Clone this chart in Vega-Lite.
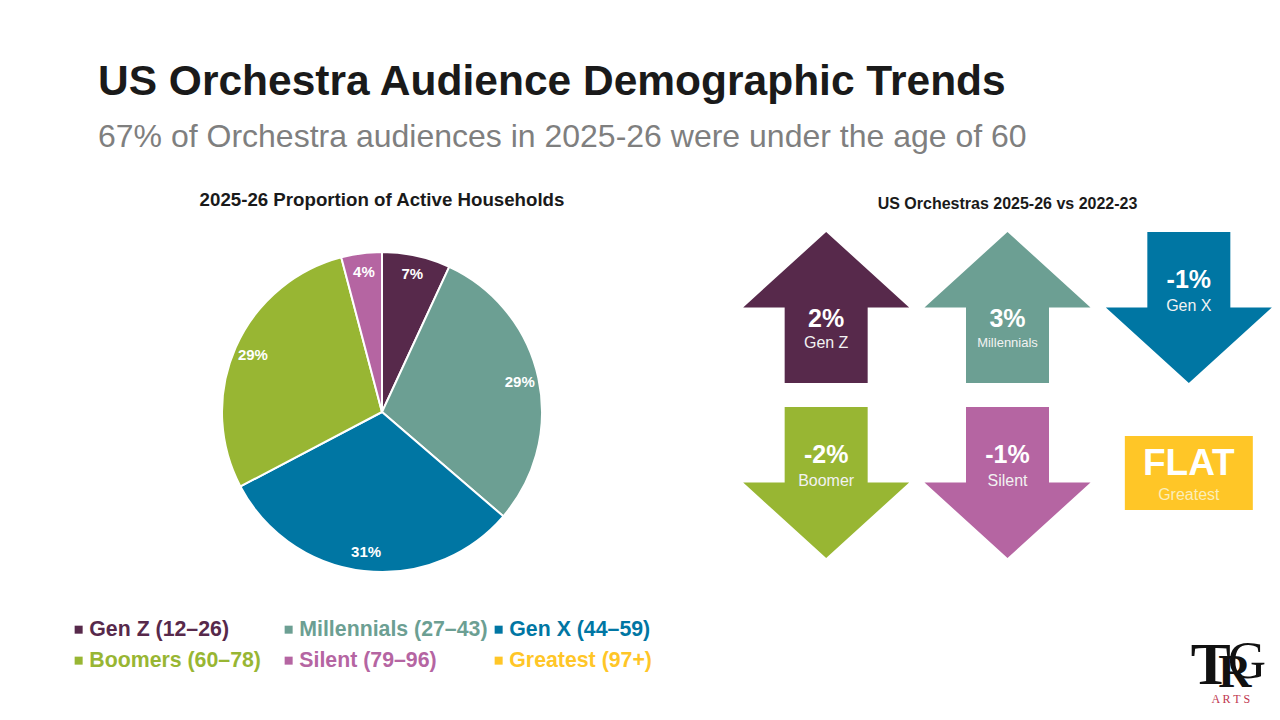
{
"$schema":"https://vega.github.io/schema/vega-lite/v6.json",
"background":"white",
"padding":{"left":68,"top":61,"right":0,"bottom":0},
"title":{"text":"US Orchestra Audience Demographic Trends","subtitle":"67% of Orchestra audiences in 2025-26 were under the age of 60","anchor":"start","frame":"bounds","dx":30,"offset":38,"font":"Liberation Sans","fontSize":42.5,"fontWeight":"bold","color":"#1a1a1a","subtitleFont":"Liberation Sans","subtitleFontSize":32,"subtitleColor":"#7f7f7f","subtitlePadding":18.5},
"config":{"view":{"stroke":null},"font":"Liberation Sans","concat":{"spacing":0}},
"bounds":"flush",
"spacing":193.5,
"datasets":{
"households":[
{"generation":"Gen Z (12–26)","share":0.069,"rank":1},
{"generation":"Millennials (27–43)","share":0.294,"rank":2},
{"generation":"Gen X (44–59)","share":0.31,"rank":3},
{"generation":"Boomers (60–78)","share":0.286,"rank":4},
{"generation":"Silent (79–96)","share":0.041,"rank":5},
{"generation":"Greatest (97+)","share":0,"rank":6}],
"changes":[
{"label":"Gen Z","change":"2%","direction":"up","col":"a","row":"top"},
{"label":"Millennials","change":"3%","direction":"up","col":"b","row":"top"},
{"label":"Gen X","change":"-1%","direction":"down","col":"c","row":"top"},
{"label":"Boomer","change":"-2%","direction":"down","col":"a","row":"bottom"},
{"label":"Silent","change":"-1%","direction":"down","col":"b","row":"bottom"},
{"label":"Greatest","change":"FLAT","direction":"flat","col":"c","row":"bottom"}],
"logo":[{"col":"c","t":"T","r":"R","g":"G","arts":"A R T S"}]
},
"hconcat":[
{"width":320,"height":384,
"title":{"text":"2025-26 Proportion of Active Households","fontSize":18.7,"fontWeight":"bold","color":"#1a1a1a","offset":10,"anchor":"middle"},
"data":{"name":"households"},
"encoding":{"theta":{"field":"share","type":"quantitative","stack":true,"scale":{"domain":[0,1]}},"order":{"field":"rank","type":"ordinal"}},
"layer":[
{"mark":{"type":"arc","outerRadius":160,"stroke":"white","strokeWidth":2},
"encoding":{"color":{"field":"generation","type":"nominal",
"scale":{"domain":["Gen Z (12–26)","Millennials (27–43)","Gen X (44–59)","Boomers (60–78)","Silent (79–96)","Greatest (97+)"],"range":["#57294B","#6C9F93","#0076A3","#98B633","#B565A2","#FFC627"]},
"legend":{"orient":"none","legendX":-154,"legendY":399,"title":null,"direction":"horizontal","columns":3,"gridAlign":"all","columnPadding":0,"rowPadding":9,"symbolType":"square","symbolSize":64,"symbolOpacity":1,"symbolStrokeWidth":0,"labelFontSize":21.3,"labelFontWeight":"bold","labelLimit":300,"labelOffset":0,
"labelColor":{"expr":"{'Gen Z (12–26)':'#57294B','Millennials (27–43)':'#6C9F93','Gen X (44–59)':'#0076A3','Boomers (60–78)':'#98B633','Silent (79–96)':'#B565A2','Greatest (97+)':'#FFC627'}[datum.value]"}}}}},
{"mark":{"type":"text","radius":141,"color":"white","fontSize":15,"fontWeight":"bold"},
"encoding":{"text":{"field":"share","type":"quantitative","format":".0%"},"opacity":{"condition":{"test":"datum.share>0","value":1},"value":0}}}
]},
{"vconcat":[
{"width":544,"height":350,
"title":{"text":"US Orchestras 2025-26 vs 2022-23","fontSize":16,"fontWeight":"bold","color":"#1a1a1a","offset":8,"anchor":"middle"},
"data":{"name":"changes"},
"encoding":{"x":{"field":"col","type":"nominal","axis":null,"scale":{"domain":["a","b","c"],"paddingInner":0,"paddingOuter":0}},
"y":{"field":"row","type":"nominal","axis":null,"scale":{"domain":["top","bottom"],"paddingInner":0,"paddingOuter":0}}},
"layer":[
{"mark":{"type":"point","filled":true,"opacity":1,"size":27556},
"encoding":{"shape":{"field":"direction","type":"nominal","legend":null,"scale":{"domain":["up","down","flat"],"range":["M0,-0.91 L1,0 L0.5,0 L0.5,0.91 L-0.5,0.91 L-0.5,0 L-1,0 Z","M0,0.91 L1,0 L0.5,0 L0.5,-0.91 L-0.5,-0.91 L-0.5,0 L-1,0 Z","M-0.771,-0.56 L0.771,-0.56 L0.771,0.332 L-0.771,0.332 Z"]}},
"color":{"field":"label","type":"nominal","legend":null,"scale":{"domain":["Gen Z","Millennials","Gen X","Boomer","Silent","Greatest"],"range":["#57294B","#6C9F93","#0076A3","#98B633","#B565A2","#FFC627"]}}}},
{"transform":[{"filter":"datum.direction=='up'"}],"mark":{"type":"text","color":"white","fontSize":25,"fontWeight":"bold","dy":11},"encoding":{"text":{"field":"change"}}},
{"transform":[{"filter":"datum.direction=='up'"}],"mark":{"type":"text","color":"#f2f2f2","dy":35},"encoding":{"text":{"field":"label"},"size":{"condition":{"test":"datum.label=='Millennials'","value":13},"value":16}}},
{"transform":[{"filter":"datum.direction=='down'"}],"mark":{"type":"text","color":"white","fontSize":25,"fontWeight":"bold","dy":-28},"encoding":{"text":{"field":"change"}}},
{"transform":[{"filter":"datum.direction=='down'"}],"mark":{"type":"text","color":"#f2f2f2","fontSize":16,"dy":-2},"encoding":{"text":{"field":"label"}}},
{"transform":[{"filter":"datum.direction=='flat'"}],"mark":{"type":"text","color":"white","fontSize":37,"fontWeight":"bold","dy":-19},"encoding":{"text":{"field":"change"}}},
{"transform":[{"filter":"datum.direction=='flat'"}],"mark":{"type":"text","color":"#fbeeb8","fontSize":16,"dy":12},"encoding":{"text":{"field":"label"}}}
]},
{"width":544,"height":70,
"data":{"name":"logo"},
"encoding":{"x":{"field":"col","type":"nominal","axis":null,"scale":{"domain":["a","b","c"],"paddingInner":0,"paddingOuter":0}}},
"layer":[
{"mark":{"type":"text","font":"Liberation Serif","fontWeight":"bold","fontSize":60,"color":"#111111","dx":22,"dy":-9},"encoding":{"text":{"field":"t"}}},
{"mark":{"type":"text","font":"Liberation Serif","fontWeight":"bold","fontSize":46,"color":"#111111","dx":46,"dy":-2},"encoding":{"text":{"field":"r"}}},
{"mark":{"type":"text","font":"Liberation Serif","fontSize":53,"color":"#111111","dx":58,"dy":-13},"encoding":{"text":{"field":"g"}}},
{"mark":{"type":"text","font":"Liberation Serif","fontSize":12,"color":"#C0384F","dx":42,"dy":24},"encoding":{"text":{"field":"arts"}}}
]}
],"spacing":70,"bounds":"flush"}
],
"resolve":{"scale":{"color":"independent"}}
}
